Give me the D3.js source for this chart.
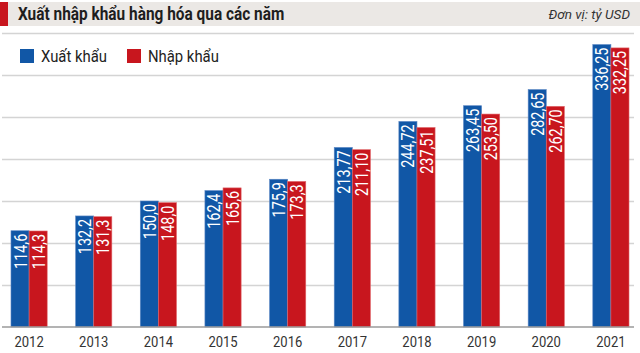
<!DOCTYPE html>
<html>
<head>
<meta charset="utf-8">
<script src="https://cdn.jsdelivr.net/npm/d3@7"></script>
<style>
  html, body { margin: 0; padding: 0; background: #fff; }
  svg { display: block; font-family: Roboto, "Liberation Sans", sans-serif; }
</style>
</head>
<body>
<div id="chart"></div>
<script>
const years = ["2012", "2013", "2014", "2015", "2016", "2017", "2018", "2019", "2020", "2021"];
const exportValues = [114.6, 132.2, 150.0, 162.4, 175.9, 213.77, 244.72, 263.45, 282.65, 336.25];
const importValues = [114.3, 131.3, 148.0, 165.6, 173.3, 211.10, 237.51, 253.50, 262.70, 332.25];
const decimals = [1, 1, 1, 1, 1, 2, 2, 2, 2, 2];
const seriesNames = ["Xuất khẩu", "Nhập khẩu"];
const gridTicks = [0, 50, 100, 150, 200, 250, 300, 350];

const width = 640, height = 353;
const blue = "#1157a6", red = "#c8161e";

const svg = d3.select("#chart").append("svg")
    .attr("width", width)
    .attr("height", height);

// squeeze text horizontally to mimic a condensed face
function condense(sel, k) {
    sel.each(function () {
        const len = this.getComputedTextLength();
        d3.select(this).attr("textLength", len * k).attr("lengthAdjust", "spacingAndGlyphs");
    });
}

// title bar
svg.append("rect").attr("x", 0).attr("y", 2).attr("width", width).attr("height", 24).attr("fill", "#ebe8e5");
svg.append("rect").attr("x", 0).attr("y", 2).attr("width", 8).attr("height", 24).attr("fill", red);
svg.append("text")
    .attr("x", 18).attr("y", 20)
    .text("Xuất nhập khẩu hàng hóa qua các năm")
    .style("font-size", "17.5px").style("font-weight", "bold").style("fill", "#1e1e1e")
    .call(condense, 0.88);
svg.append("text")
    .attr("x", 630).attr("y", 19)
    .attr("text-anchor", "end")
    .text("Đơn vị: tỷ USD")
    .style("font-size", "13.5px").style("font-style", "italic").style("fill", "#333");

const y = d3.scaleLinear().domain([0, 350]).range([327, 33]);

const x = d3.scaleBand()
    .domain(years)
    .range([0, 640])
    .paddingInner(0.44)
    .paddingOuter(0.17);

const xs = d3.scaleBand()
    .domain(seriesNames)
    .range([0, x.bandwidth()]);

const color = d3.scaleOrdinal().domain(seriesNames).range([blue, red]);

// gridlines
svg.append("g")
    .selectAll("line")
    .data(gridTicks.slice(1))
    .enter()
    .append("line")
    .attr("x1", 2).attr("x2", 634)
    .attr("y1", d => Math.round(y(d)) + 0.5)
    .attr("y2", d => Math.round(y(d)) + 0.5)
    .attr("stroke", "#d4d4d4")
    .attr("stroke-width", 1.5);

// legend
const legend = svg.append("g");
const legendX = [20, 127];
seriesNames.forEach((name, i) => {
    legend.append("rect")
        .attr("x", legendX[i]).attr("y", 49)
        .attr("width", 14).attr("height", 14)
        .attr("fill", color(name));
    legend.append("text")
        .attr("x", legendX[i] + 21).attr("y", 62)
        .text(name)
        .style("font-size", "16.5px").style("fill", "#222")
        .call(condense, 0.9);
});

const rows = years.map((yr, i) => ({
    year: yr,
    values: [
        { key: seriesNames[0], value: exportValues[i], dec: decimals[i] },
        { key: seriesNames[1], value: importValues[i], dec: decimals[i] }
    ]
}));

const groups = svg.append("g")
    .selectAll("g")
    .data(rows)
    .enter()
    .append("g")
    .attr("transform", d => `translate(${x(d.year)},0)`);

groups.selectAll("rect")
    .data(d => d.values)
    .enter()
    .append("rect")
    .attr("x", d => xs(d.key))
    .attr("y", d => y(d.value))
    .attr("width", xs.bandwidth())
    .attr("height", d => y(0) - y(d.value))
    .attr("fill", d => color(d.key))
    .attr("stroke", d => d.key === seriesNames[0] ? "#5b87c4" : "#e0686c")
    .attr("stroke-width", 0.6);

groups.selectAll("text")
    .data(d => d.values)
    .enter()
    .append("text")
    .attr("transform", d => `translate(${xs(d.key) + xs.bandwidth() / 2 + 6.5},${y(d.value) + 3}) rotate(-90)`)
    .attr("text-anchor", "end")
    .text(d => d.value.toFixed(d.dec).replace(".", ","))
    .style("font-size", "18px")
    .style("fill", "#fff")
    .call(condense, 0.8);

// baseline + year labels
const axis = svg.append("g")
    .attr("transform", `translate(0,${y(0)})`)
    .call(d3.axisBottom(x).tickSize(0).tickPadding(9));
axis.select(".domain").remove();
axis.append("line")
    .attr("x1", 2).attr("x2", 634)
    .attr("y1", 0).attr("y2", 0)
    .attr("stroke", "#9a9a9a")
    .attr("stroke-width", 1.6);
axis.selectAll("text")
    .style("font-size", "15.5px")
    .style("font-family", "Roboto, sans-serif")
    .style("fill", "#333")
    .call(condense, 0.84);
</script>
</body>
</html>
